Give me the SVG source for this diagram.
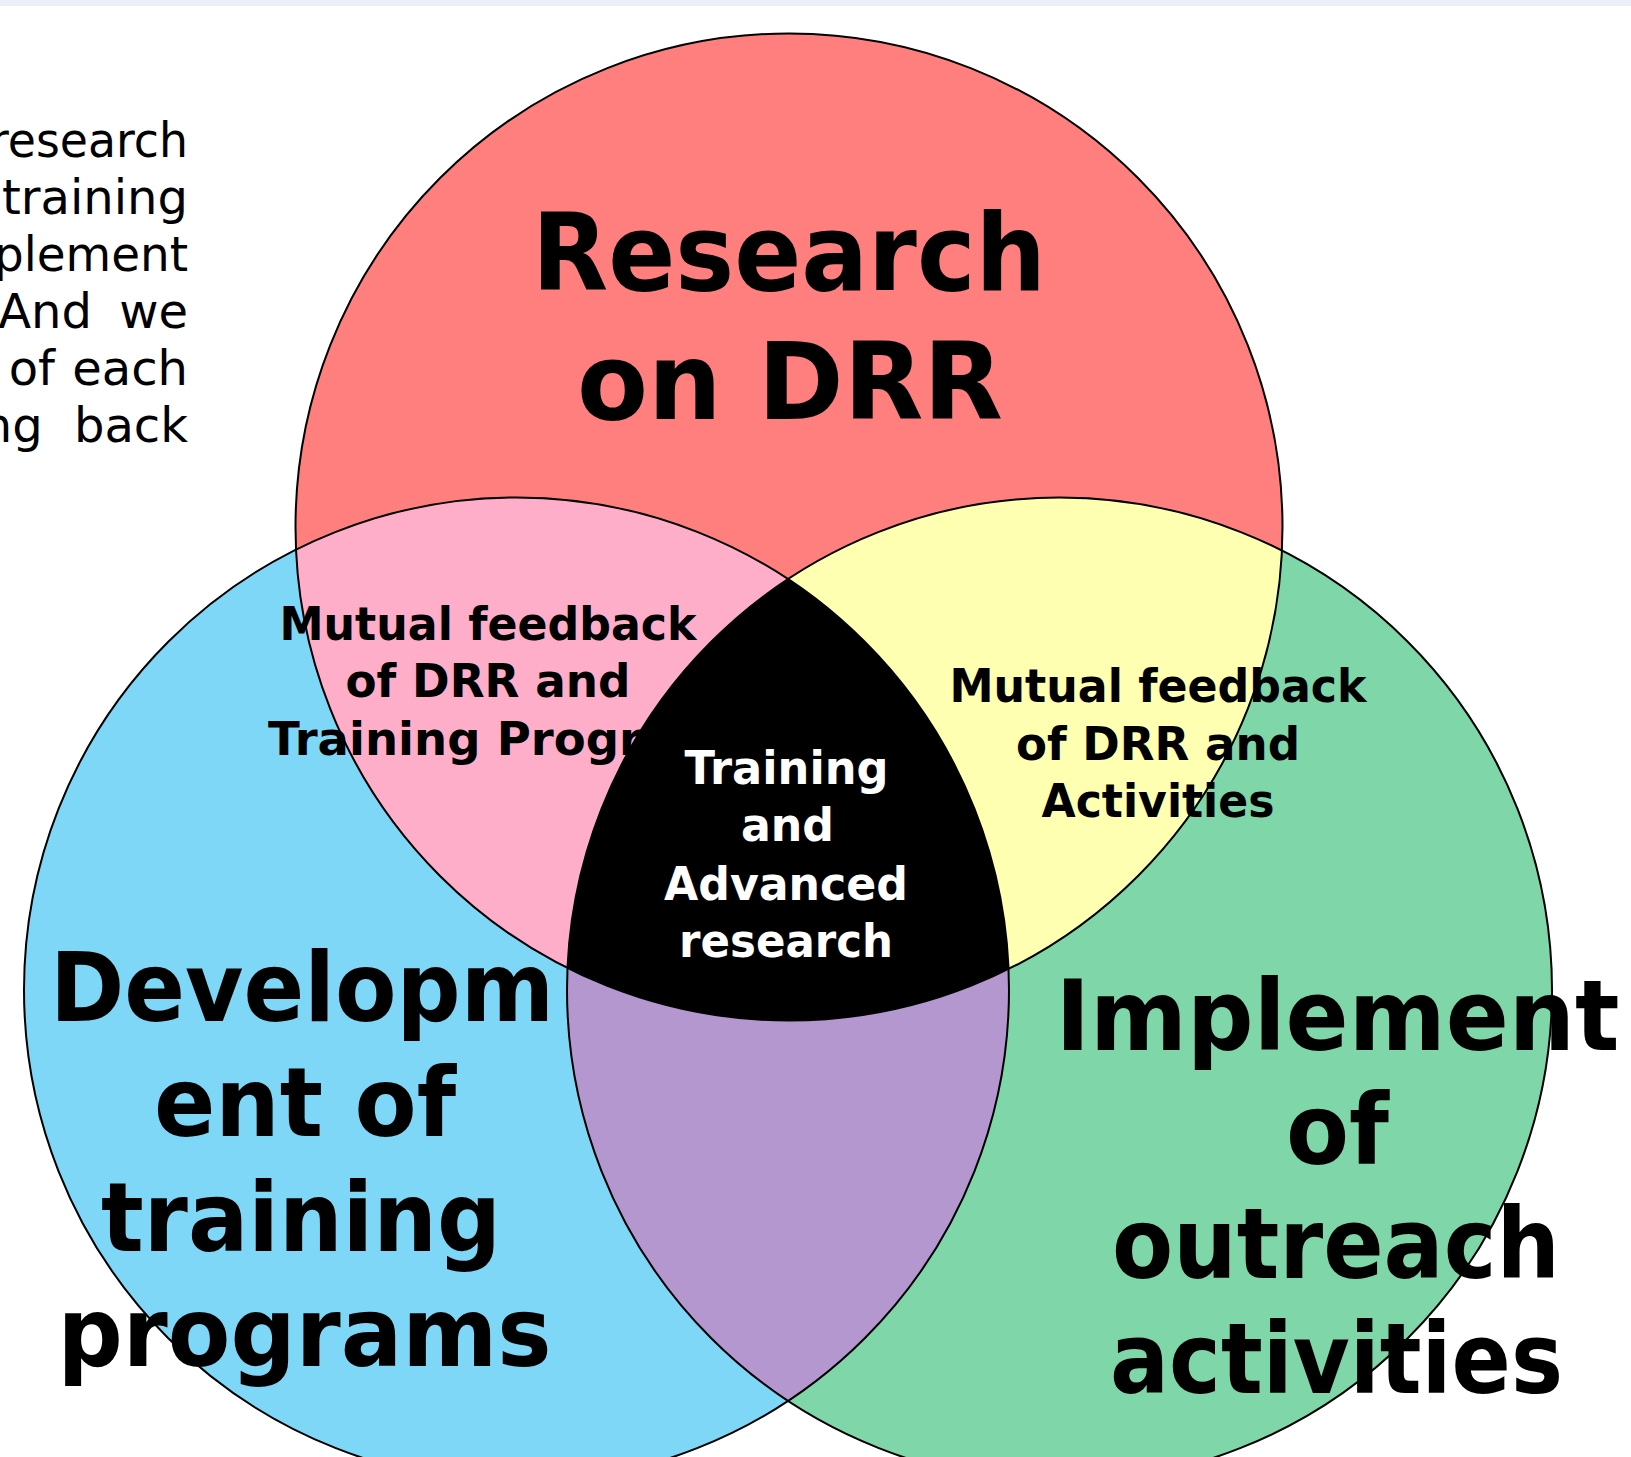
<svg xmlns="http://www.w3.org/2000/svg" xmlns:xlink="http://www.w3.org/1999/xlink" width="1631" height="1457" viewBox="0 0 1631 1457">
  <style>
    .outline { fill: none; stroke: #000; stroke-width: 2; }
    .big { font-family: "DejaVu Sans", "Liberation Sans", sans-serif; font-weight: bold; fill: #000; text-anchor: middle; }
    .mid { font-family: "DejaVu Sans", "Liberation Sans", sans-serif; font-weight: bold; font-size: 47px; fill: #000; text-anchor: middle; }
    .white { fill: #fff; }
    .intro { font-family: "DejaVu Sans", "Liberation Sans", sans-serif; font-size: 48px; fill: #000; text-anchor: end; }
  </style>
  <defs>
    <circle id="cRed" cx="789" cy="527" r="493.5"/>
    <circle id="cBlue" cx="516.5" cy="990" r="492.5"/>
    <circle id="cGreen" cx="1059.5" cy="990" r="492.5"/>
    <clipPath id="clipBlue"><circle cx="516.5" cy="990" r="492.5"/></clipPath>
    <clipPath id="clipGreen"><circle cx="1059.5" cy="990" r="492.5"/></clipPath>
  </defs>

  <rect x="0" y="0" width="1631" height="1457" fill="#fff"/>
  <rect x="0" y="0" width="1631" height="6" fill="#EBEFF8"/>

  <g id="intro-text">
    <text class="intro" x="188" y="157" textLength="198" lengthAdjust="spacingAndGlyphs">research</text>
    <text class="intro" x="188" y="214">training</text>
    <text class="intro" x="188" y="271" textLength="194" lengthAdjust="spacingAndGlyphs">plement</text>
    <text class="intro" x="188" y="328" word-spacing="12">And we</text>
    <text class="intro" x="188" y="385" word-spacing="2">of each</text>
    <text class="intro" x="188" y="442" word-spacing="16">ng back</text>
  </g>

  <g id="research-circle">
    <use xlink:href="#cRed" fill="#FF7F7F"/>
  </g>
  <g id="training-circle">
    <use xlink:href="#cBlue" fill="#7FD7F7"/>
  </g>
  <g id="outreach-circle">
    <use xlink:href="#cGreen" fill="#7FD6A8"/>
  </g>
  <g id="overlap-research-training">
    <use xlink:href="#cRed" fill="#FFAEC9" clip-path="url(#clipBlue)"/>
  </g>
  <g id="overlap-research-outreach">
    <use xlink:href="#cRed" fill="#FFFFB2" clip-path="url(#clipGreen)"/>
  </g>
  <g id="overlap-training-outreach">
    <use xlink:href="#cBlue" fill="#B497CF" clip-path="url(#clipGreen)"/>
  </g>

  <g id="outlines">
    <use xlink:href="#cRed" class="outline"/>
    <use xlink:href="#cBlue" class="outline"/>
    <use xlink:href="#cGreen" class="outline"/>
  </g>

  <g id="labels-research">
    <text class="big" font-size="107" x="789" y="290" textLength="514" lengthAdjust="spacingAndGlyphs">Research</text>
    <text class="big" font-size="107" x="790" y="419" textLength="426" lengthAdjust="spacingAndGlyphs">on DRR</text>
  </g>
  <g id="labels-training">
    <text class="big" font-size="97" x="302" y="1021" textLength="504" lengthAdjust="spacingAndGlyphs">Developm</text>
    <text class="big" font-size="97" x="305" y="1136" textLength="302" lengthAdjust="spacingAndGlyphs">ent of</text>
    <text class="big" font-size="97" x="301" y="1251" textLength="400" lengthAdjust="spacingAndGlyphs">training</text>
    <text class="big" font-size="97" x="304.5" y="1366" textLength="494" lengthAdjust="spacingAndGlyphs">programs</text>
  </g>
  <g id="labels-outreach">
    <text class="big" font-size="98" x="1337.5" y="1050" textLength="564" lengthAdjust="spacingAndGlyphs">Implement</text>
    <text class="big" font-size="98" x="1337.5" y="1164" textLength="103" lengthAdjust="spacingAndGlyphs">of</text>
    <text class="big" font-size="98" x="1336" y="1278" textLength="448" lengthAdjust="spacingAndGlyphs">outreach</text>
    <text class="big" font-size="98" x="1336.5" y="1393" textLength="453" lengthAdjust="spacingAndGlyphs">activities</text>
  </g>
  <g id="labels-research-training">
    <text class="mid" x="488" y="640" textLength="417" lengthAdjust="spacingAndGlyphs">Mutual feedback</text>
    <text class="mid" x="488" y="697" textLength="285" lengthAdjust="spacingAndGlyphs">of DRR and</text>
    <text class="mid" x="268" y="755" text-anchor="start" style="text-anchor:start" textLength="374" lengthAdjust="spacingAndGlyphs">Training Progr</text>
  </g>
  <g id="labels-research-outreach">
    <text class="mid" x="1158" y="702" textLength="417" lengthAdjust="spacingAndGlyphs">Mutual feedback</text>
    <text class="mid" x="1158" y="760" textLength="284" lengthAdjust="spacingAndGlyphs">of DRR and</text>
    <text class="mid" x="1158" y="817" textLength="233" lengthAdjust="spacingAndGlyphs">Activities</text>
  </g>

  <g id="center">
    <g clip-path="url(#clipBlue)">
      <use xlink:href="#cRed" fill="#000" clip-path="url(#clipGreen)"/>
    </g>
    <text class="mid white" x="786.5" y="784" textLength="204" lengthAdjust="spacingAndGlyphs">Training</text>
    <text class="mid white" x="787.5" y="841" textLength="93" lengthAdjust="spacingAndGlyphs">and</text>
    <text class="mid white" x="786" y="900" textLength="244" lengthAdjust="spacingAndGlyphs">Advanced</text>
    <text class="mid white" x="786" y="957" textLength="214" lengthAdjust="spacingAndGlyphs">research</text>
  </g>

  <g id="connectors"/>
</svg>
